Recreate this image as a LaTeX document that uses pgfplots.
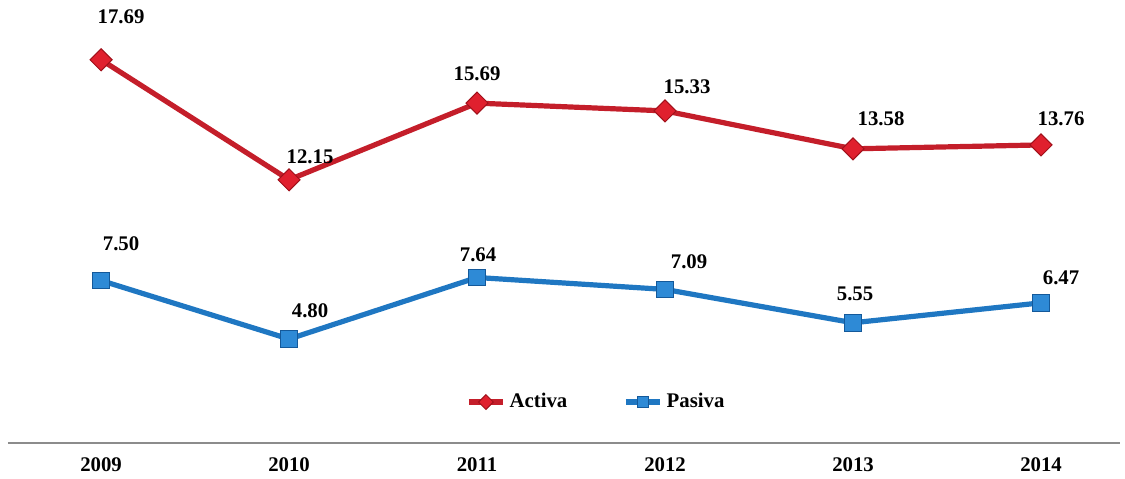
\documentclass[border=0pt]{standalone}
\usepackage{pgfplots}
\pgfplotsset{compat=1.18}
\usepackage{fontspec}
\setmainfont{Liberation Serif}
\definecolor{rojo}{HTML}{C41E2A}
\definecolor{rojomk}{HTML}{E0202E}
\definecolor{rojobd}{HTML}{A0101A}
\definecolor{azul}{HTML}{1F77C2}
\definecolor{azulmk}{HTML}{2E8AD6}
\definecolor{azulbd}{HTML}{14599A}
\newcommand{\lf}{\bfseries\fontsize{10.4}{12}\selectfont}
\begin{document}
\begin{tikzpicture}
\begin{axis}[
  at={(0pt,0pt)}, anchor=south west,
  scale only axis, width=556pt, height=221.5pt,
  xmin=-0.495, xmax=5.42, ymin=0, ymax=20.45,
  axis x line*=bottom, axis y line=none,
  x axis line style={draw=gray!90, line width=1pt},
  xtick={0,1,2,3,4,5},
  xticklabels={2009,2010,2011,2012,2013,2014},
  major tick length=0pt,
  ytick=\empty,
  xticklabel style={font=\lf, yshift=-4pt},
  clip=false,
  legend style={at={(axis cs:2.64,1.89)}, anchor=center, draw=none, fill=none,
    legend columns=2, font=\lf, inner xsep=0pt,
    /tikz/every even column/.append style={column sep=26pt}},
  legend image post style={mark size=2.6pt},
]
\addplot[rojo, line width=2.6pt, mark=square*, mark size=3.9pt,
  mark options={rotate=45, fill=rojomk, draw=rojobd, line width=0.5pt}]
  coordinates {(0,17.69) (1,12.15) (2,15.69) (3,15.33) (4,13.58) (5,13.76)};
\addlegendentry{Activa}
\addplot[azul, line width=2.6pt, mark=square*, mark size=4.2pt,
  mark options={fill=azulmk, draw=azulbd, line width=0.5pt}]
  coordinates {(0,7.50) (1,4.80) (2,7.64) (3,7.09) (4,5.55) (5,6.47)};
\addlegendentry{Pasiva}
\begin{scope}[every node/.style={font=\lf, text=black, inner sep=0pt}]
\node at (axis cs:0,17.69) [xshift=10pt, yshift=21.5pt] {17.69};
\node at (axis cs:1,12.15) [xshift=10.5pt, yshift=11.5pt] {12.15};
\node at (axis cs:2,15.69) [xshift=0pt, yshift=14.5pt] {15.69};
\node at (axis cs:3,15.33) [xshift=11pt, yshift=12pt] {15.33};
\node at (axis cs:4,13.58) [xshift=14pt, yshift=15pt] {13.58};
\node at (axis cs:5,13.76) [xshift=10pt, yshift=13pt] {13.76};
\node at (axis cs:0,7.50) [xshift=10pt, yshift=18.5pt] {7.50};
\node at (axis cs:1,4.80) [xshift=10.5pt, yshift=14pt] {4.80};
\node at (axis cs:2,7.64) [xshift=0.5pt, yshift=11.5pt] {7.64};
\node at (axis cs:3,7.09) [xshift=12pt, yshift=14pt] {7.09};
\node at (axis cs:4,5.55) [xshift=1pt, yshift=14.5pt] {5.55};
\node at (axis cs:5,6.47) [xshift=10pt, yshift=12.5pt] {6.47};
\end{scope}
\end{axis}
\pgfresetboundingbox
\path[use as bounding box] (-4pt,-17.5pt) rectangle (558.5pt,221.5pt);
\end{tikzpicture}
\end{document}
